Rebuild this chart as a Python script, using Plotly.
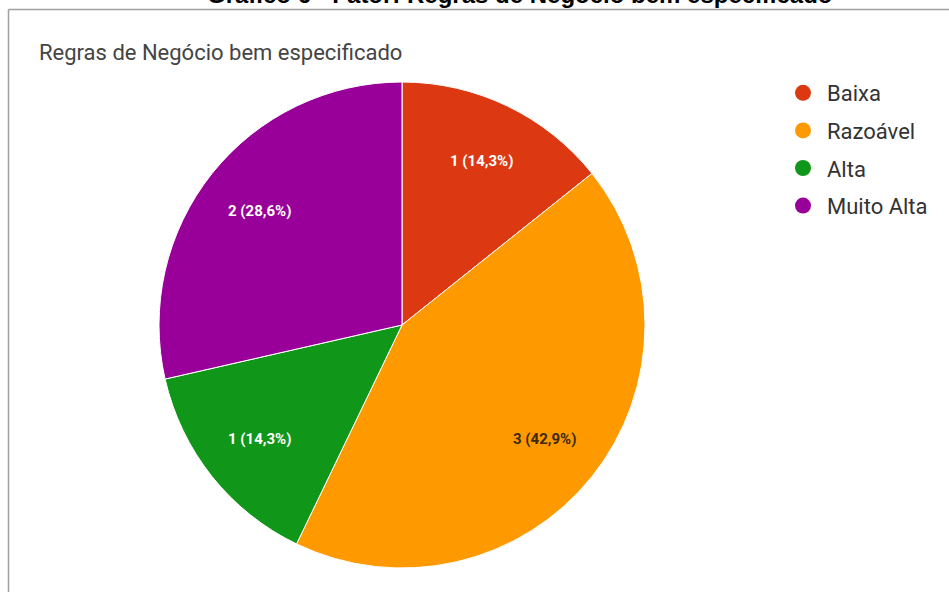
import math
import plotly.graph_objects as go

labels = ["Baixa", "Razoável", "Alta", "Muito Alta"]
values = [1, 3, 1, 2]
colors = ["#dc3912", "#ff9900", "#109618", "#990099"]
text_colors = ["#ffffff", "#3a2a10", "#ffffff", "#ffffff"]

total = sum(values)
slice_text = [f"{v} ({v / total * 100:.1f}%)".replace(".", ",") for v in values]

W, H = 949, 592
# pie geometry in pixels
CX, CY, R = 402, 325, 243
LABEL_FRAC = 0.75

fig = go.Figure()
fig.add_trace(go.Pie(
    labels=labels, values=values, sort=False, direction="clockwise", rotation=0,
    marker=dict(colors=colors, line=dict(color="#ffffff", width=1)),
    textinfo="none",
    showlegend=False,
    domain=dict(x=[(CX - R) / W, (CX + R) / W], y=[1 - (CY + R) / H, 1 - (CY - R) / H]),
    hoverinfo="label+value+percent",
))

for i, (lab, col) in enumerate(zip(labels, colors)):
    fig.add_trace(go.Scatter(
        x=[None], y=[None], mode="markers", name=lab, legendgroup=f"g{i}",
        marker=dict(symbol="circle", size=18, color=col),
    ))

annotations = [
    dict(text="Regras de Negócio bem especificado", x=37 / W, y=1 - 38 / H, xref="paper", yref="paper",
         xanchor="left", yanchor="top", showarrow=False,
         font=dict(family="Roboto", size=22, color="#444444")),
    dict(text="<b>Gráfico 6 - Fator: Regras de Negócio bem especificado</b>", x=520 / W, y=1 - 10 / H,
         xref="paper", yref="paper", xanchor="center", yanchor="bottom", showarrow=False,
         font=dict(family="Liberation Sans", size=24, color="#000000")),
]

# slice labels placed along each slice's bisector
cum = 0
for v, t, tc in zip(values, slice_text, text_colors):
    mid = (cum + v / 2) / total * 2 * math.pi
    cum += v
    d = LABEL_FRAC * R
    annotations.append(dict(
        text=f"<b>{t}</b>", x=(CX + d * math.sin(mid)) / W, y=1 - (CY - d * math.cos(mid)) / H,
        xref="paper", yref="paper", xanchor="center", yanchor="middle", showarrow=False,
        font=dict(family="Roboto", size=15, color=tc),
    ))

fig.update_layout(
    width=W, height=H,
    margin=dict(l=0, r=0, t=0, b=0),
    paper_bgcolor="white", plot_bgcolor="white",
    xaxis=dict(visible=False), yaxis=dict(visible=False),
    legend=dict(
        x=779 / W, xanchor="left", y=1 - 72 / H, yanchor="top",
        font=dict(family="Roboto", size=22, color="#333333"),
        itemwidth=38,
        tracegroupgap=6, bgcolor="rgba(0,0,0,0)",
    ),
    shapes=[
        dict(type="line", xref="paper", yref="paper", x0=8.5 / W, x1=1, y0=1 - 9.5 / H, y1=1 - 9.5 / H,
             line=dict(color="#a0a0a0", width=1.5)),
        dict(type="line", xref="paper", yref="paper", x0=8.5 / W, x1=8.5 / W, y0=0, y1=1 - 9.5 / H,
             line=dict(color="#a0a0a0", width=1.5)),
    ],
    annotations=annotations,
)

fig.write_html("out.html")
